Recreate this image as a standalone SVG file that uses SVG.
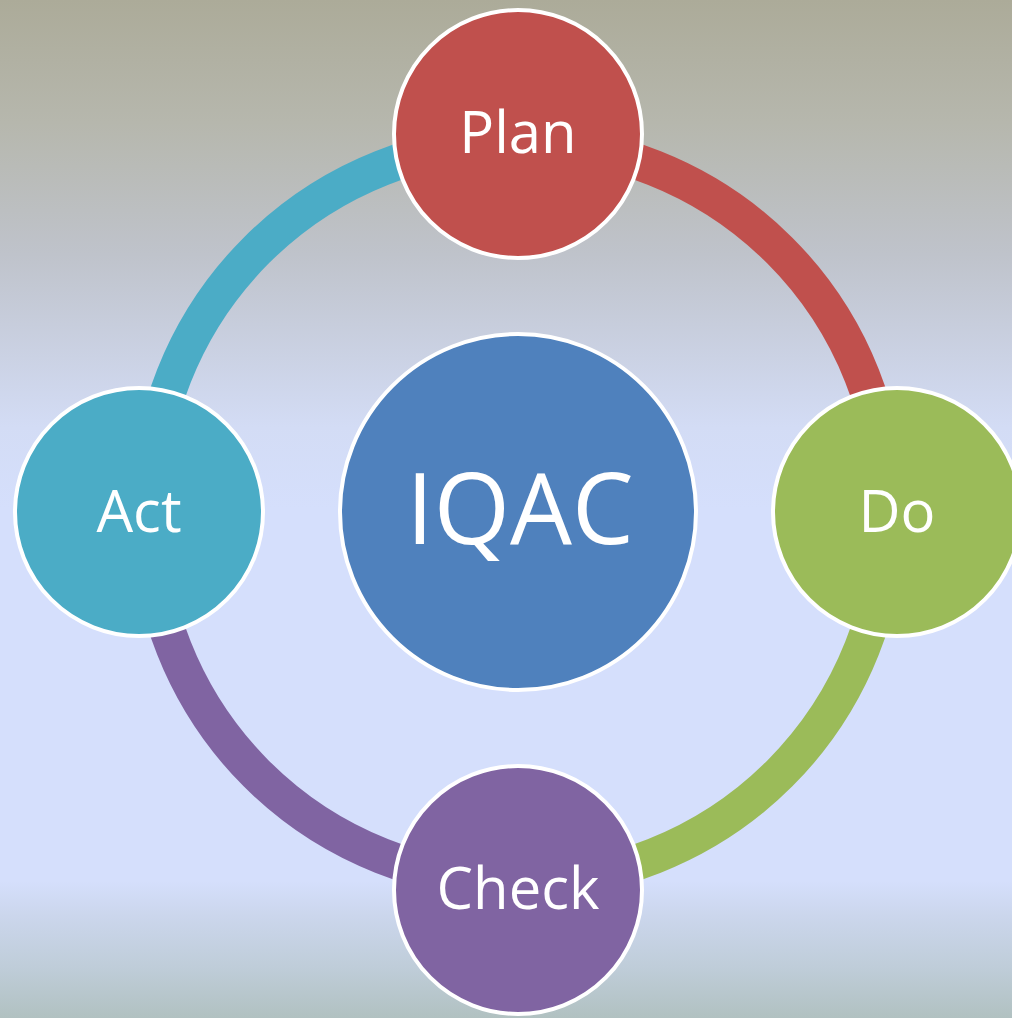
<svg xmlns="http://www.w3.org/2000/svg" width="1012" height="1018" viewBox="0 0 1012 1018">
  <defs>
    <linearGradient id="bg" x1="0" y1="0" x2="0" y2="1">
      <stop offset="0" stop-color="#acab99"/>
      <stop offset="0.12" stop-color="#b6b7ad"/>
      <stop offset="0.25" stop-color="#bfc3cb"/>
      <stop offset="0.42" stop-color="#d3dcf5"/>
      <stop offset="0.5" stop-color="#d5dffc"/>
      <stop offset="0.865" stop-color="#d5dffc"/>
      <stop offset="0.9" stop-color="#cbd6ec"/>
      <stop offset="0.95" stop-color="#bfcdd9"/>
      <stop offset="1" stop-color="#b1c1c1"/>
    </linearGradient>
    <style>
      .node { stroke: #ffffff; stroke-width: 4; }
      .arc { fill: none; stroke-width: 36; }
      .lbl { font-family: "Open Sans", "Noto Sans", sans-serif; fill: #ffffff; text-anchor: middle; font-size: 58px; }
    </style>
  </defs>
  <rect x="0" y="0" width="1012" height="1018" fill="url(#bg)"/>
  <g id="connectors">
    <path class="arc" stroke="#c0504d" d="M 518 142 A 370 370 0 0 1 888 512"/>
    <path class="arc" stroke="#9bbb59" d="M 888 512 A 370 370 0 0 1 518 882"/>
    <path class="arc" stroke="#8064a2" d="M 518 882 A 370 370 0 0 1 148 512"/>
    <path class="arc" stroke="#4bacc6" d="M 148 512 A 370 370 0 0 1 518 142"/>
  </g>
  <g id="iqac">
    <circle class="node" cx="518" cy="512" r="178" fill="#4f81bd"/>
    <text class="lbl" x="520" y="544" style="font-size:98px">IQAC</text>
  </g>
  <g id="plan">
    <circle class="node" cx="518" cy="134" r="124" fill="#c0504d"/>
    <text class="lbl" x="518" y="153">Plan</text>
  </g>
  <g id="do">
    <circle class="node" cx="897" cy="512" r="124" fill="#9bbb59"/>
    <text class="lbl" x="897" y="532">Do</text>
  </g>
  <g id="check">
    <circle class="node" cx="518" cy="890" r="124" fill="#8064a2"/>
    <text class="lbl" x="518" y="909">Check</text>
  </g>
  <g id="act">
    <circle class="node" cx="139" cy="512" r="124" fill="#4bacc6"/>
    <text class="lbl" x="139" y="532">Act</text>
  </g>
</svg>
